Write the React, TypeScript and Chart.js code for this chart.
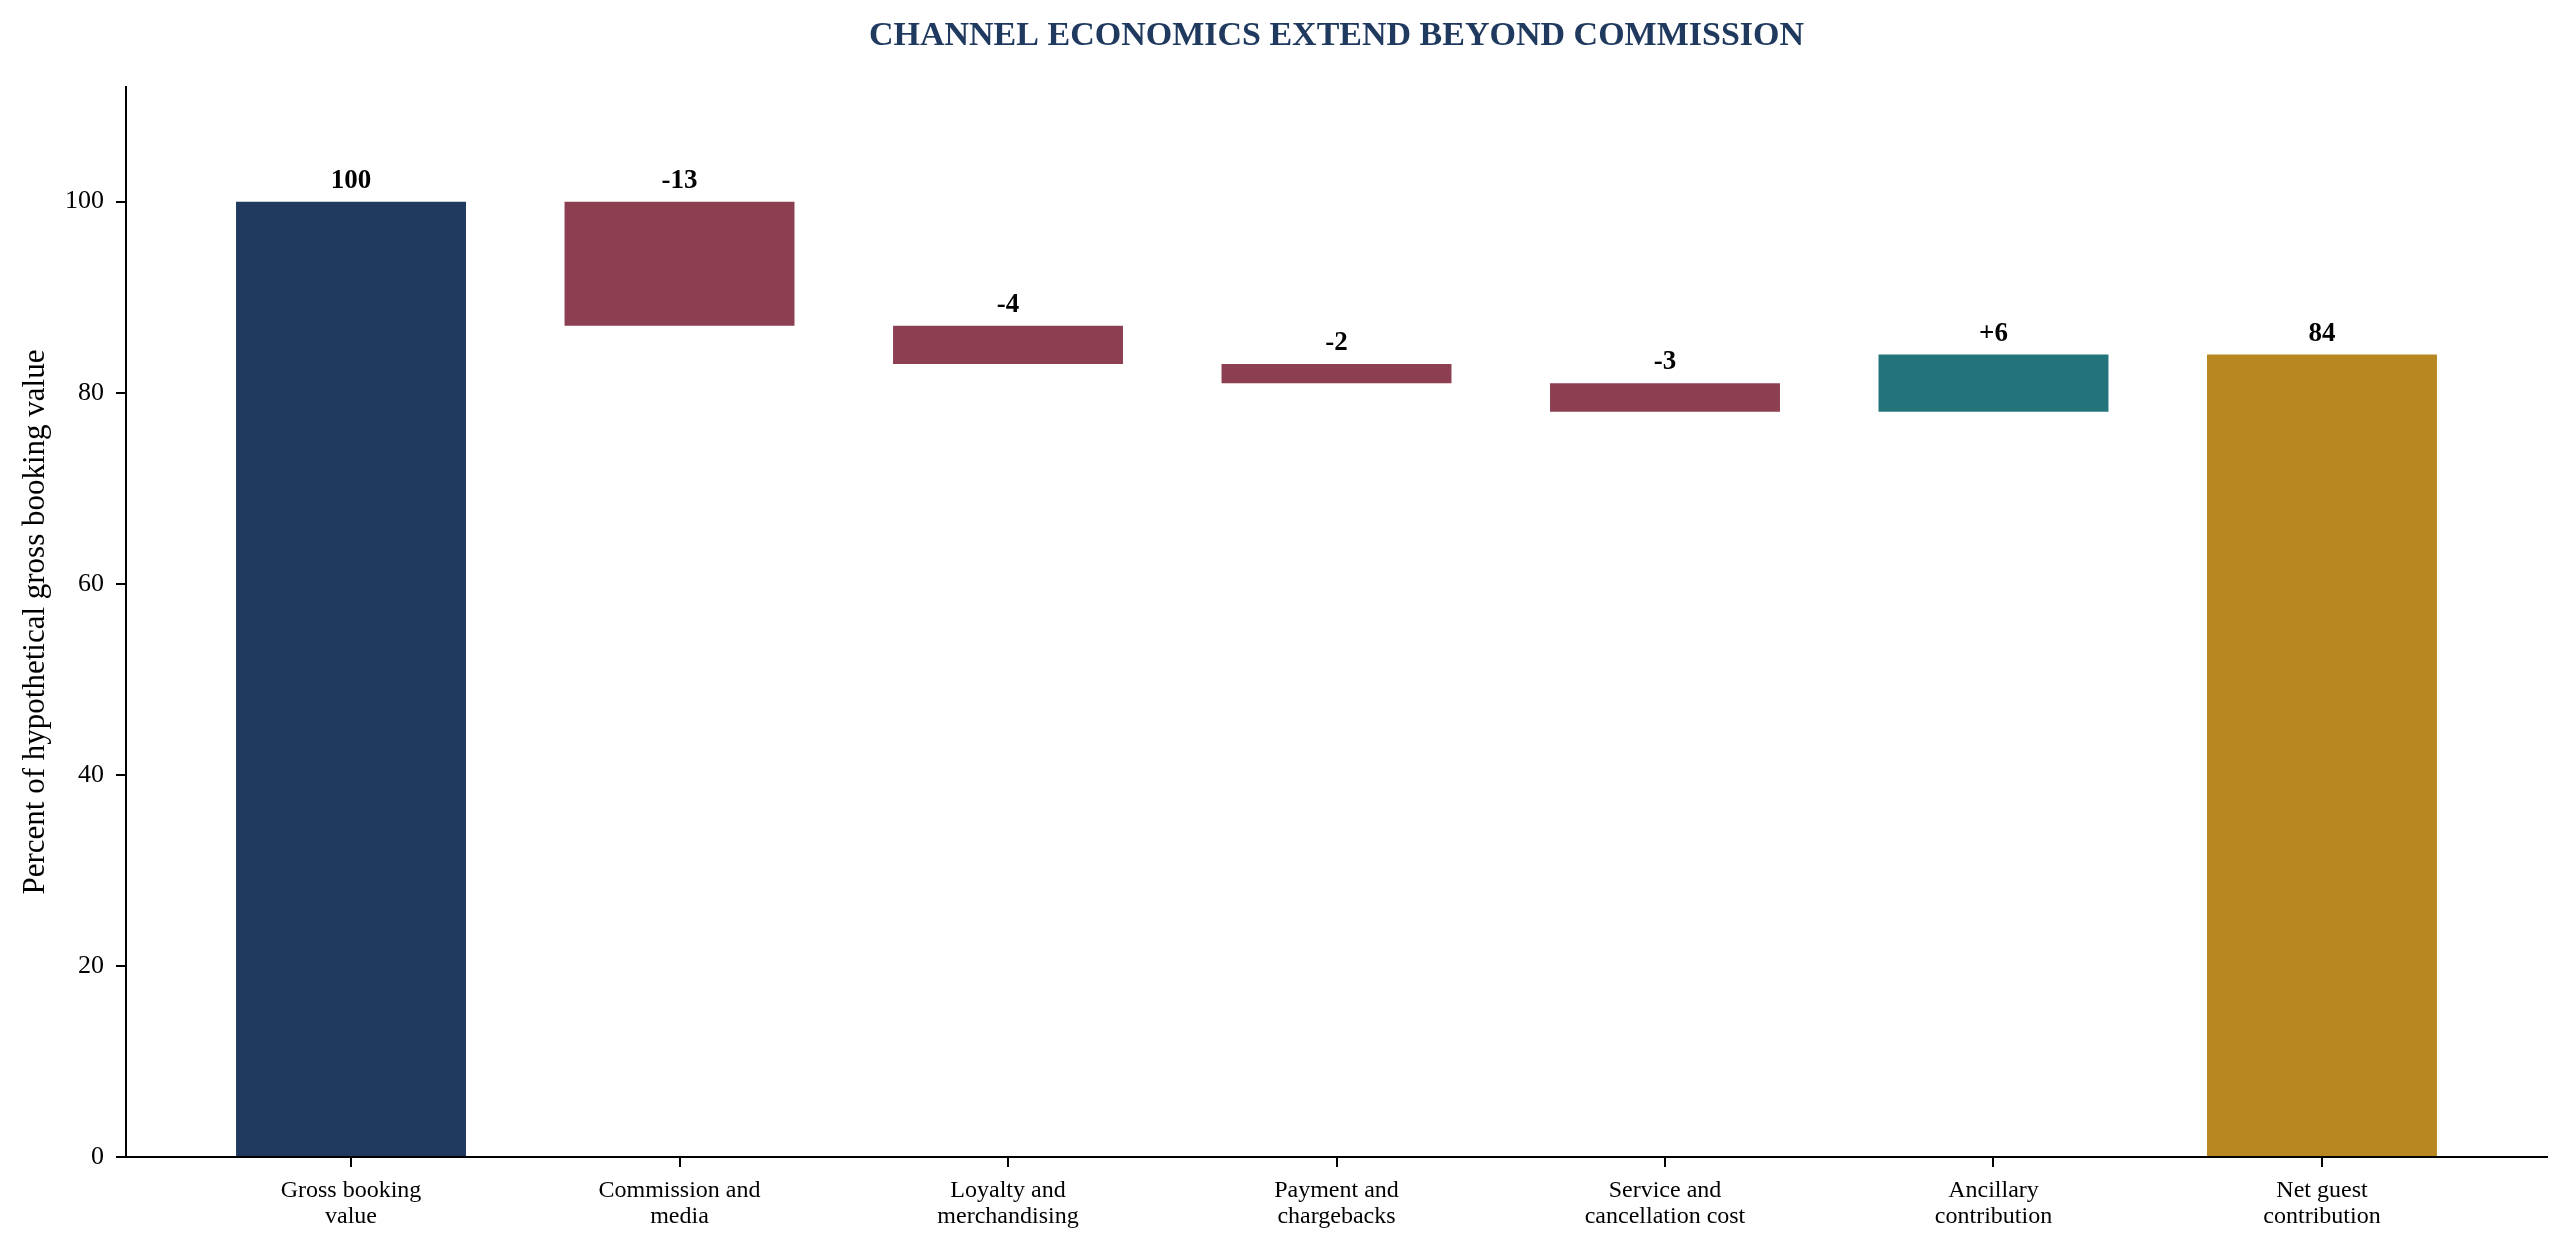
import React, { useEffect, useRef } from 'react';
import { Chart, registerables } from 'chart.js';

Chart.register(...registerables);

// Waterfall steps
const categories: string[][] = [
  ['Gross booking', 'value'],
  ['Commission and', 'media'],
  ['Loyalty and', 'merchandising'],
  ['Payment and', 'chargebacks'],
  ['Service and', 'cancellation cost'],
  ['Ancillary', 'contribution'],
  ['Net guest', 'contribution'],
];
const stepValues = [100, -13, -4, -2, -3, 6, 84];
const isTotal = [true, false, false, false, false, false, true];
const valueLabels = ['100', '-13', '-4', '-2', '-3', '+6', '84'];
const yTicks = [0, 20, 40, 60, 80, 100];

const NAVY = '#1F3A5E';
const MAROON = '#8C3F50';
const TEAL = '#22747A';
const GOLD = '#B98721';

const FONT = '"Liberation Serif", "Times New Roman", serif';

const WIDTH = 2570;
const HEIGHT = 1253;

const App: React.FC = () => {
  const canvasRef = useRef<HTMLCanvasElement>(null);
  const chartRef = useRef<Chart | null>(null);

  useEffect(() => {
    if (!canvasRef.current) return;
    if (chartRef.current) chartRef.current.destroy();
    const ctx = canvasRef.current.getContext('2d');
    if (!ctx) return;

    // build floating ranges from the steps
    let running = 0;
    const ranges = stepValues.map((v, i) => {
      if (isTotal[i]) {
        running = v;
        return { x: i, y: [0, v] };
      }
      const start = running;
      running += v;
      return { x: i, y: [start, running] };
    });
    const colors = stepValues.map((v, i) => {
      if (isTotal[i]) return i === 0 ? NAVY : GOLD;
      return v < 0 ? MAROON : TEAL;
    });

    const textPlugin = {
      id: 'waterfallText',
      afterDatasetsDraw(chart: any) {
        const c = chart.ctx;
        const xs = chart.scales.x;
        const ys = chart.scales.y;
        const area = chart.chartArea;
        c.save();

        // bar value labels
        c.fillStyle = '#000';
        c.font = `bold 27px ${FONT}`;
        c.textAlign = 'center';
        c.textBaseline = 'alphabetic';
        ranges.forEach((r, i) => {
          const top = Math.max(r.y[0], r.y[1]);
          c.fillText(valueLabels[i], xs.getPixelForValue(r.x), ys.getPixelForValue(top) - 14);
        });

        // title
        c.fillStyle = NAVY;
        c.font = `bold 34px ${FONT}`;
        c.fillText('CHANNEL ECONOMICS EXTEND BEYOND COMMISSION', (area.left + area.right) / 2, 45);

        // y axis title
        c.fillStyle = '#000';
        c.font = `31px ${FONT}`;
        c.translate(44, (area.top + area.bottom) / 2);
        c.rotate(-Math.PI / 2);
        c.fillText('Percent of hypothetical gross booking value', 0, 0);
        c.restore();
      },
    };

    chartRef.current = new Chart(ctx, {
      type: 'bar',
      data: {
        datasets: [
          {
            data: ranges as any,
            backgroundColor: colors,
            borderWidth: 0,
            barPercentage: 0.7,
            categoryPercentage: 1,
          },
        ],
      },
      options: {
        responsive: false,
        animation: false,
        devicePixelRatio: 1,
        layout: { padding: { top: 87, right: 23, bottom: 0, left: 0 } },
        plugins: {
          legend: { display: false },
          title: { display: false },
          tooltip: { enabled: false },
        },
        scales: {
          x: {
            type: 'linear',
            min: -0.685,
            max: 6.685,
            offset: false,
            afterBuildTicks: (scale: any) => {
              scale.ticks = categories.map((_, i) => ({ value: i }));
            },
            afterFit: (scale: any) => {
              scale.height = 96;
            },
            ticks: {
              autoSkip: false,
              maxRotation: 0,
              padding: 11,
              color: '#000',
              font: { family: FONT, size: 24, lineHeight: 1.07 },
              callback: (_v: any, i: number) => categories[i],
            },
            grid: {
              offset: false,
              drawOnChartArea: false,
              drawTicks: true,
              tickLength: 10,
              lineWidth: 2,
              color: '#000',
              tickColor: '#000',
            },
            border: { display: true, color: '#000', width: 2 },
          },
          y: {
            min: 0,
            max: 112,
            afterBuildTicks: (scale: any) => {
              scale.ticks = yTicks.map((v) => ({ value: v }));
            },
            afterFit: (scale: any) => {
              scale.width = 126;
            },
            ticks: {
              padding: 12,
              color: '#000',
              font: { family: FONT, size: 26 },
            },
            grid: {
              drawOnChartArea: false,
              drawTicks: true,
              tickLength: 10,
              lineWidth: 2,
              color: '#000',
              tickColor: '#000',
            },
            border: { display: true, color: '#000', width: 2 },
          },
        },
      },
      plugins: [textPlugin],
    });

    return () => {
      if (chartRef.current) {
        chartRef.current.destroy();
        chartRef.current = null;
      }
    };
  }, []);

  return (
    <div style={{ position: 'absolute', left: 0, top: 0, width: WIDTH, height: HEIGHT, background: '#fff' }}>
      <canvas ref={canvasRef} width={WIDTH} height={HEIGHT} style={{ display: 'block' }} />
    </div>
  );
};

export default App;
